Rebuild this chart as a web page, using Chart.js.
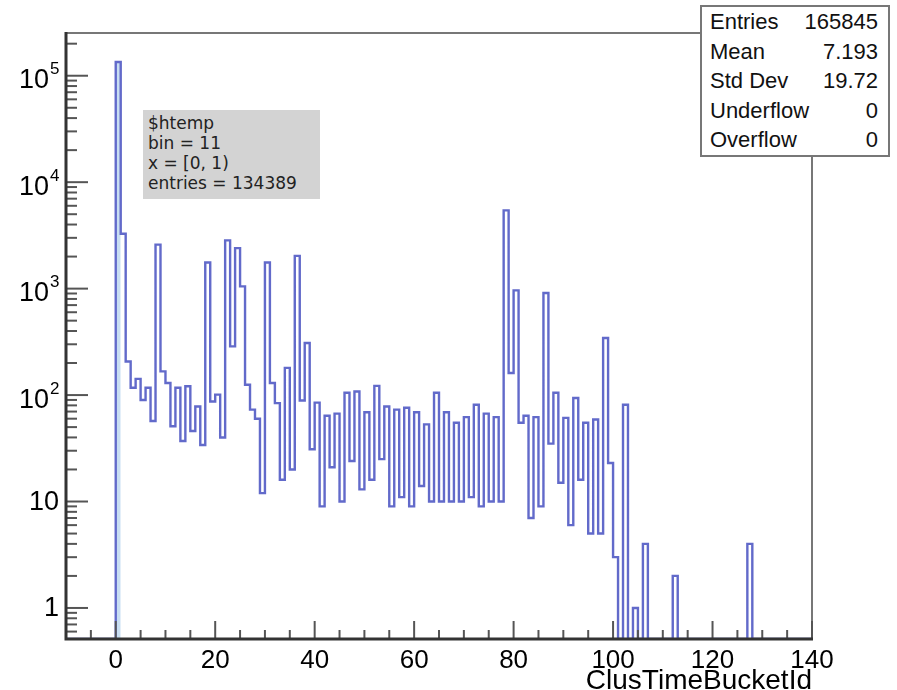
<!DOCTYPE html>
<html>
<head>
<meta charset="utf-8">
<script src="https://cdn.jsdelivr.net/npm/chart.js@4.4.0/dist/chart.umd.min.js"></script>
<style>
  body { margin: 0; background: #fff; }
  #wrap { position: relative; width: 897px; height: 690px; }
  #stats {
    position: absolute; left: 700px; top: 5px; width: 186px; height: 148px;
    border: 2px solid #777; background: #fff;
    font-family: "Liberation Sans", Arial, sans-serif; font-size: 22px; color: #111;
  }
  #stats div { display: flex; justify-content: space-between; height: 29.6px; line-height: 29.6px; padding: 0 10px 0 8px; }
  #info {
    position: absolute; left: 143px; top: 110px; width: 177px; height: 89px;
    background: #d3d3d3; padding-left: 5px; padding-top: 3px; box-sizing: border-box;
    font-family: "DejaVu Sans", sans-serif; font-size: 17px; color: #222; line-height: 20px;
  }
</style>
</head>
<body>
<div id="wrap">
  <canvas id="c"></canvas>
  <div id="info"></div>
  <div id="stats"></div>
</div>
<script>
// histogram ClusTimeBucketId, 150 bins of width 1 starting at -10
const lowEdge = -10
const binWidth = 1
const negBins = [0, 0, 0, 0, 0, 0, 0, 0, 0, 0]          // -10 .. -1
const counts0to49 = [134389, 3280, 207, 117, 142, 90, 117, 57, 2590, 167,
  130, 51, 117, 37, 121, 46, 78, 34, 1760, 87,
  101, 40, 2840, 287, 2400, 1050, 125, 73, 60, 12,
  1760, 130, 84, 16, 180, 20, 2030, 89, 308, 31,
  85, 9, 64, 21, 67, 10, 105, 24, 108, 13]
const counts50to99 = [69, 16, 122, 25, 78, 9, 73, 11, 76, 9,
  69, 14, 53, 10, 105, 10, 69, 10, 55, 10,
  62, 11, 81, 9, 67, 10, 62, 10, 5430, 161,
  962, 55, 64, 7, 62, 9, 910, 35, 105, 15,
  61, 6, 94, 16, 55, 5, 59, 5, 344, 23]
const counts100to139 = [3, 0, 81, 0, 1, 0, 4, 0, 0, 0,
  0, 0, 2, 0, 0, 0, 0, 0, 0, 0,
  0, 0, 0, 0, 0, 0, 0, 4, 0, 0,
  0, 0, 0, 0, 0, 0, 0, 0, 0, 0]
const selectedBin = 0   // bin 11 of the histogram, x = [0, 1)

const xMin = -10, xMax = 140
const yMin = 0.511, yMax = 2.52e5
const xLabels = [0, 20, 40, 60, 80, 100, 120, 140]
const yDecades = [1, 10, 100, 1000, 10000, 100000]
const xTitle = 'ClusTimeBucketId'

const statsRows = [['Entries', '165845'], ['Mean', '7.193'], ['Std Dev', '19.72'], ['Underflow', '0'], ['Overflow', '0']]
const infoLines = ['$htemp', 'bin = 11', 'x = [0, 1)', 'entries = 134389']

const counts = negBins.concat(counts0to49, counts50to99, counts100to139)

// step outline points on the bin edges, empty bins sit on the axis floor
const outline = counts.map((c, i) => ({ x: lowEdge + i * binWidth, y: c > 0 ? c : yMin }))
outline.push({ x: lowEdge + counts.length * binWidth, y: counts[counts.length - 1] > 0 ? counts[counts.length - 1] : yMin })

const selIdx = selectedBin - lowEdge
const highlight = [
  { x: selectedBin, y: counts[selIdx] },
  { x: selectedBin + binWidth, y: counts[selIdx] }
]

const LINE = 'rgb(98,106,202)'

const rootAxes = {
  id: 'rootAxes',
  afterDraw(chart) {
    const ctx = chart.ctx
    const xs = chart.scales.x, ys = chart.scales.y
    const a = chart.chartArea
    ctx.save()
    // frame
    ctx.strokeStyle = '#777'
    ctx.lineWidth = 2
    ctx.beginPath()
    ctx.moveTo(a.left, a.top); ctx.lineTo(a.right, a.top); ctx.lineTo(a.right, a.bottom)
    ctx.stroke()

    // x ticks, every 5, long ones at multiples of 20
    ctx.strokeStyle = '#555'
    ctx.lineWidth = 2
    for (let v = xMin; v <= xMax; v += 5) {
      const px = xs.getPixelForValue(v)
      const len = v % 20 === 0 ? 18 : 9
      ctx.beginPath(); ctx.moveTo(px, a.bottom); ctx.lineTo(px, a.bottom - len); ctx.stroke()
    }
    // y ticks, log decades with 2..9 minors
    for (let d = 0.1; d <= yMax; d *= 10) {
      for (let m = 1; m <= 9; m++) {
        const v = d * m
        if (v < yMin || v > yMax) continue
        const py = ys.getPixelForValue(v)
        const len = m === 1 ? 22 : 11
        ctx.beginPath(); ctx.moveTo(a.left, py); ctx.lineTo(a.left + len, py); ctx.stroke()
      }
    }
    // axis lines
    ctx.strokeStyle = '#333'
    ctx.lineWidth = 3
    ctx.beginPath()
    ctx.moveTo(a.left, a.top - 1); ctx.lineTo(a.left, a.bottom); ctx.lineTo(a.right + 1, a.bottom)
    ctx.stroke()

    // labels
    ctx.fillStyle = '#000'
    ctx.font = '26px "Liberation Sans", Arial, sans-serif'
    ctx.textAlign = 'center'
    ctx.textBaseline = 'alphabetic'
    xLabels.forEach(v => ctx.fillText(String(v), xs.getPixelForValue(v), 668))

    ctx.textAlign = 'right'
    yDecades.forEach(v => {
      const py = ys.getPixelForValue(v)
      const exp = Math.round(Math.log10(v))
      ctx.font = '27px "Liberation Sans", Arial, sans-serif'
      ctx.textBaseline = 'middle'
      if (exp <= 1) {
        ctx.fillText(String(v), 59, py + 1)
      } else {
        ctx.fillText('10', 49, py + 5)
        ctx.font = '17px "Liberation Sans", Arial, sans-serif'
        ctx.textAlign = 'left'
        ctx.fillText(String(exp), 50, py - 6)
        ctx.textAlign = 'right'
      }
    })

    ctx.font = '28px "Liberation Sans", Arial, sans-serif'
    ctx.textAlign = 'right'
    ctx.textBaseline = 'alphabetic'
    ctx.fillText(xTitle, a.right, 689)
    ctx.restore()
  }
}

new Chart(document.getElementById('c'), {
  type: 'line',
  data: {
    datasets: [
      {
        label: 'selected bin',
        data: highlight,
        stepped: true,
        borderWidth: 0,
        pointRadius: 0,
        fill: 'start',
        backgroundColor: 'rgb(200,222,242)',
        order: 2
      },
      {
        label: '$htemp',
        data: outline,
        stepped: true,
        borderColor: LINE,
        borderWidth: 2.4,
        pointRadius: 0,
        fill: false,
        order: 1
      }
    ]
  },
  options: {
    responsive: true,
    maintainAspectRatio: false,
    animation: false,
    layout: { padding: { left: 66, right: 85, top: 33, bottom: 51 } },
    plugins: { legend: { display: false }, tooltip: { enabled: false } },
    scales: {
      x: { type: 'linear', min: xMin, max: xMax, display: false },
      y: { type: 'logarithmic', min: yMin, max: yMax, display: false }
    }
  },
  plugins: [rootAxes]
})

document.getElementById('stats').innerHTML = statsRows.map(r => `<div><span>${r[0]}</span><span>${r[1]}</span></div>`).join('')
document.getElementById('info').innerHTML = infoLines.map(t => `<div>${t}</div>`).join('')
</script>
</body>
</html>
